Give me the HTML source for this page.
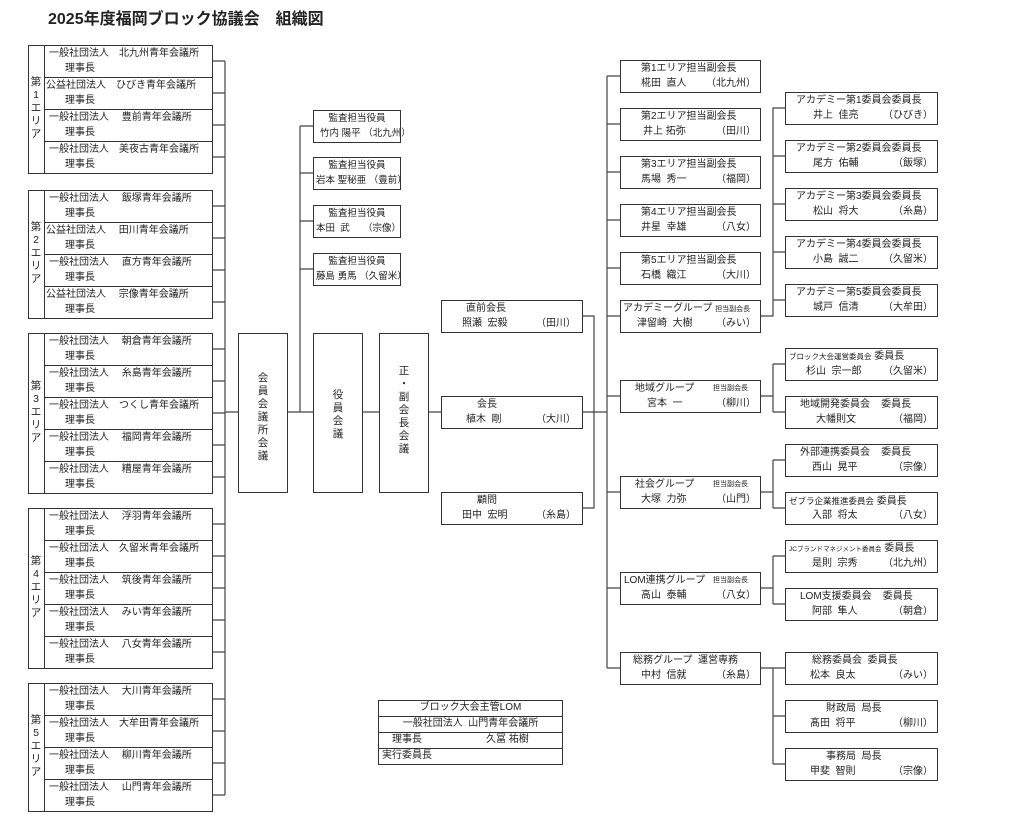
<!DOCTYPE html>
<html><head><meta charset="utf-8">
<style>
body{margin:0;background:#fff;}
#c{position:relative;width:1024px;height:821px;overflow:hidden;font-family:"Liberation Sans","Noto Sans CJK JP",sans-serif;font-size:10px;color:#222;}
.b{position:absolute;border:1px solid #333;box-sizing:border-box;background:#fff;}
.r{position:absolute;border-bottom:1px solid #333;box-sizing:border-box;}
.t{position:absolute;white-space:nowrap;line-height:12px;}
.v{position:absolute;font-size:10.5px;line-height:13px;text-align:center;width:12px;}
.a .t{font-size:9.5px;}
svg{position:absolute;left:0;top:0;}
</style></head><body><div id="c">
<svg width="1024" height="821" stroke="#444" stroke-width="1.2" fill="none">
<path d="M225 61V795M212 61H225M212 93H225M212 125H225M212 157H225
M212 206H225M212 238H225M212 270H225M212 302H225
M212 349H225M212 381H225M212 413H225M212 445H225M212 477H225
M212 524H225M212 556H225M212 588H225M212 620H225M212 652H225
M212 699H225M212 731H225M212 763H225M212 795H225
M225 412H238M287 412H313M362 412H379M428 412H441"/>
<path d="M300 126V412M300 126H313M300 173H313M300 221H313M300 269H313"/>
<path d="M582 316H594V508H582M582 412H607"/>
<path d="M607 76V668M607 76H620M607 124H620M607 172H620M607 220H620M607 268H620M607 316H620M607 396H620M607 492H620M607 588H620M607 668H620"/>
<path d="M760 316H773V108H785M773 156H785M773 204H785M773 252H785M773 300H785"/>
<path d="M760 396H773M773 364V412M773 364H785M773 412H785"/>
<path d="M760 492H773M773 460V508M773 460H785M773 508H785"/>
<path d="M760 588H773M773 556V604M773 556H785M773 604H785"/>
<path d="M760 668H785M773 668V764M773 716H785M773 764H785"/>
</svg>
<div class="t" style="left:48px;top:11px;font-size:16px;line-height:18px;font-weight:bold;">2025年度福岡ブロック協議会　組織図</div>

<div class="b" style="left:28px;top:45px;width:185px;height:129px;"></div>
<div class="v" style="left:30px;top:76px;">第<br>1<br>エ<br>リ<br>ア</div>
<div class="b" style="left:44px;top:45px;width:169px;height:33px;"><span class="t" style="left:4px;top:2px;">一般社団法人　北九州青年会議所</span><span class="t" style="left:20px;top:17px;">理事長</span></div>
<div class="b" style="left:44px;top:77px;width:169px;height:33px;"><span class="t" style="left:1px;top:2px;">公益社団法人　ひびき青年会議所</span><span class="t" style="left:20px;top:17px;">理事長</span></div>
<div class="b" style="left:44px;top:109px;width:169px;height:33px;"><span class="t" style="left:4px;top:2px;">一般社団法人　&nbsp;豊前青年会議所</span><span class="t" style="left:20px;top:17px;">理事長</span></div>
<div class="b" style="left:44px;top:141px;width:169px;height:33px;"><span class="t" style="left:4px;top:2px;">一般社団法人　美夜古青年会議所</span><span class="t" style="left:20px;top:17px;">理事長</span></div>

<div class="b" style="left:28px;top:190px;width:185px;height:129px;"></div>
<div class="v" style="left:30px;top:221px;">第<br>2<br>エ<br>リ<br>ア</div>
<div class="b" style="left:44px;top:190px;width:169px;height:33px;"><span class="t" style="left:4px;top:2px;">一般社団法人　&nbsp;飯塚青年会議所</span><span class="t" style="left:20px;top:17px;">理事長</span></div>
<div class="b" style="left:44px;top:222px;width:169px;height:33px;"><span class="t" style="left:1px;top:2px;">公益社団法人　&nbsp;田川青年会議所</span><span class="t" style="left:20px;top:17px;">理事長</span></div>
<div class="b" style="left:44px;top:254px;width:169px;height:33px;"><span class="t" style="left:4px;top:2px;">一般社団法人　&nbsp;直方青年会議所</span><span class="t" style="left:20px;top:17px;">理事長</span></div>
<div class="b" style="left:44px;top:286px;width:169px;height:33px;"><span class="t" style="left:1px;top:2px;">公益社団法人　&nbsp;宗像青年会議所</span><span class="t" style="left:20px;top:17px;">理事長</span></div>

<div class="b" style="left:28px;top:333px;width:185px;height:161px;"></div>
<div class="v" style="left:30px;top:380px;">第<br>3<br>エ<br>リ<br>ア</div>
<div class="b" style="left:44px;top:333px;width:169px;height:33px;"><span class="t" style="left:4px;top:2px;">一般社団法人　&nbsp;朝倉青年会議所</span><span class="t" style="left:20px;top:17px;">理事長</span></div>
<div class="b" style="left:44px;top:365px;width:169px;height:33px;"><span class="t" style="left:4px;top:2px;">一般社団法人　&nbsp;糸島青年会議所</span><span class="t" style="left:20px;top:17px;">理事長</span></div>
<div class="b" style="left:44px;top:397px;width:169px;height:33px;"><span class="t" style="left:4px;top:2px;">一般社団法人　つくし青年会議所</span><span class="t" style="left:20px;top:17px;">理事長</span></div>
<div class="b" style="left:44px;top:429px;width:169px;height:33px;"><span class="t" style="left:4px;top:2px;">一般社団法人　&nbsp;福岡青年会議所</span><span class="t" style="left:20px;top:17px;">理事長</span></div>
<div class="b" style="left:44px;top:461px;width:169px;height:33px;"><span class="t" style="left:4px;top:2px;">一般社団法人　&nbsp;糟屋青年会議所</span><span class="t" style="left:20px;top:17px;">理事長</span></div>

<div class="b" style="left:28px;top:508px;width:185px;height:161px;"></div>
<div class="v" style="left:30px;top:555px;">第<br>4<br>エ<br>リ<br>ア</div>
<div class="b" style="left:44px;top:508px;width:169px;height:33px;"><span class="t" style="left:4px;top:2px;">一般社団法人　&nbsp;浮羽青年会議所</span><span class="t" style="left:20px;top:17px;">理事長</span></div>
<div class="b" style="left:44px;top:540px;width:169px;height:33px;"><span class="t" style="left:4px;top:2px;">一般社団法人　久留米青年会議所</span><span class="t" style="left:20px;top:17px;">理事長</span></div>
<div class="b" style="left:44px;top:572px;width:169px;height:33px;"><span class="t" style="left:4px;top:2px;">一般社団法人　&nbsp;筑後青年会議所</span><span class="t" style="left:20px;top:17px;">理事長</span></div>
<div class="b" style="left:44px;top:604px;width:169px;height:33px;"><span class="t" style="left:4px;top:2px;">一般社団法人　&nbsp;みい青年会議所</span><span class="t" style="left:20px;top:17px;">理事長</span></div>
<div class="b" style="left:44px;top:636px;width:169px;height:33px;"><span class="t" style="left:4px;top:2px;">一般社団法人　&nbsp;八女青年会議所</span><span class="t" style="left:20px;top:17px;">理事長</span></div>

<div class="b" style="left:28px;top:683px;width:185px;height:129px;"></div>
<div class="v" style="left:30px;top:714px;">第<br>5<br>エ<br>リ<br>ア</div>
<div class="b" style="left:44px;top:683px;width:169px;height:33px;"><span class="t" style="left:4px;top:2px;">一般社団法人　&nbsp;大川青年会議所</span><span class="t" style="left:20px;top:17px;">理事長</span></div>
<div class="b" style="left:44px;top:715px;width:169px;height:33px;"><span class="t" style="left:4px;top:2px;">一般社団法人　大牟田青年会議所</span><span class="t" style="left:20px;top:17px;">理事長</span></div>
<div class="b" style="left:44px;top:747px;width:169px;height:33px;"><span class="t" style="left:4px;top:2px;">一般社団法人　&nbsp;柳川青年会議所</span><span class="t" style="left:20px;top:17px;">理事長</span></div>
<div class="b" style="left:44px;top:779px;width:169px;height:33px;"><span class="t" style="left:4px;top:2px;">一般社団法人　&nbsp;山門青年会議所</span><span class="t" style="left:20px;top:17px;">理事長</span></div>

<div class="b" style="left:238px;top:333px;width:50px;height:160px;"><div class="v" style="left:18px;top:38px;">会<br>員<br>会<br>議<br>所<br>会<br>議</div></div>
<div class="b" style="left:313px;top:333px;width:50px;height:160px;"><div class="v" style="left:18px;top:55px;">役<br>員<br>会<br>議</div></div>
<div class="b" style="left:379px;top:333px;width:50px;height:160px;"><div class="v" style="left:18px;top:31px;">正<br>・<br>副<br>会<br>長<br>会<br>議</div></div>

<div class="b a" style="left:313px;top:110px;width:88px;height:33px;"><span class="t" style="left:0;width:86px;text-align:center;top:2px;">監査担当役員</span><span class="t" style="left:6px;top:17px;">竹内&nbsp;陽平 （北九州）</span></div>
<div class="b a" style="left:313px;top:157px;width:88px;height:33px;"><span class="t" style="left:0;width:86px;text-align:center;top:2px;">監査担当役員</span><span class="t" style="left:2px;top:17px;">岩本&nbsp;聖秘亜 （豊前）</span></div>
<div class="b a" style="left:313px;top:205px;width:88px;height:33px;"><span class="t" style="left:0;width:86px;text-align:center;top:2px;">監査担当役員</span><span class="t" style="left:2px;top:17px;">本田&nbsp;&nbsp;武&nbsp;&nbsp;&nbsp;&nbsp;&nbsp;（宗像）</span></div>
<div class="b a" style="left:313px;top:253px;width:88px;height:33px;"><span class="t" style="left:0;width:86px;text-align:center;top:2px;">監査担当役員</span><span class="t" style="left:2px;top:17px;">藤島&nbsp;勇馬 （久留米）</span></div>

<div class="b" style="left:441px;top:300px;width:142px;height:33px;"><span class="t" style="left:24px;top:2px;">直前会長</span><span class="t" style="left:20px;top:17px;">照瀬&nbsp;&nbsp;宏毅</span><span class="t" style="right:6px;top:17px;">（田川）</span></div>
<div class="b" style="left:441px;top:396px;width:142px;height:33px;"><span class="t" style="left:35px;top:2px;">会長</span><span class="t" style="left:24px;top:17px;">植木&nbsp;&nbsp;剛</span><span class="t" style="right:6px;top:17px;">（大川）</span></div>
<div class="b" style="left:441px;top:492px;width:142px;height:33px;"><span class="t" style="left:35px;top:2px;">顧問</span><span class="t" style="left:20px;top:17px;">田中&nbsp;&nbsp;宏明</span><span class="t" style="right:6px;top:17px;">（糸島）</span></div>

<div class="b" style="left:620px;top:60px;width:141px;height:33px;"><span class="t" style="left:20px;top:2px;">第1エリア担当副会長</span><span class="t" style="left:20px;top:17px;">椛田&nbsp;&nbsp;直人</span><span class="t" style="right:4px;top:17px;">（北九州）</span></div>
<div class="b" style="left:620px;top:108px;width:141px;height:33px;"><span class="t" style="left:20px;top:2px;">第2エリア担当副会長</span><span class="t" style="left:22px;top:17px;">井上&nbsp;拓弥</span><span class="t" style="right:4px;top:17px;">（田川）</span></div>
<div class="b" style="left:620px;top:156px;width:141px;height:33px;"><span class="t" style="left:20px;top:2px;">第3エリア担当副会長</span><span class="t" style="left:20px;top:17px;">馬場&nbsp;&nbsp;秀一</span><span class="t" style="right:4px;top:17px;">（福岡）</span></div>
<div class="b" style="left:620px;top:204px;width:141px;height:33px;"><span class="t" style="left:20px;top:2px;">第4エリア担当副会長</span><span class="t" style="left:20px;top:17px;">井星&nbsp;&nbsp;幸雄</span><span class="t" style="right:4px;top:17px;">（八女）</span></div>
<div class="b" style="left:620px;top:252px;width:141px;height:33px;"><span class="t" style="left:20px;top:2px;">第5エリア担当副会長</span><span class="t" style="left:20px;top:17px;">石橋&nbsp;&nbsp;織江</span><span class="t" style="right:4px;top:17px;">（大川）</span></div>
<div class="b" style="left:620px;top:300px;width:141px;height:33px;"><span class="t" style="left:2px;top:2px;">アカデミーグループ <span style="font-size:7px">担当副会長</span></span><span class="t" style="left:16px;top:17px;">津留崎&nbsp;&nbsp;大樹</span><span class="t" style="right:4px;top:17px;">（みい）</span></div>
<div class="b" style="left:620px;top:380px;width:141px;height:33px;"><span class="t" style="left:14px;top:2px;">地域グループ</span><span class="t" style="left:92px;top:2px;font-size:7px;">担当副会長</span><span class="t" style="left:26px;top:17px;">宮本&nbsp;&nbsp;一</span><span class="t" style="right:4px;top:17px;">（柳川）</span></div>
<div class="b" style="left:620px;top:476px;width:141px;height:33px;"><span class="t" style="left:14px;top:2px;">社会グループ</span><span class="t" style="left:92px;top:2px;font-size:7px;">担当副会長</span><span class="t" style="left:20px;top:17px;">大塚&nbsp;&nbsp;力弥</span><span class="t" style="right:4px;top:17px;">（山門）</span></div>
<div class="b" style="left:620px;top:572px;width:141px;height:33px;"><span class="t" style="left:3px;top:2px;">LOM連携グループ</span><span class="t" style="left:92px;top:2px;font-size:7px;">担当副会長</span><span class="t" style="left:20px;top:17px;">高山&nbsp;&nbsp;泰輔</span><span class="t" style="right:4px;top:17px;">（八女）</span></div>
<div class="b" style="left:620px;top:652px;width:141px;height:33px;"><span class="t" style="left:12px;top:2px;">総務グループ&nbsp;&nbsp;運営専務</span><span class="t" style="left:20px;top:17px;">中村&nbsp;&nbsp;信就</span><span class="t" style="right:4px;top:17px;">（糸島）</span></div>

<div class="b" style="left:785px;top:92px;width:153px;height:33px;"><span class="t" style="left:10px;top:2px;">アカデミー第1委員会委員長</span><span class="t" style="left:27px;top:17px;">井上&nbsp;&nbsp;佳亮</span><span class="t" style="right:4px;top:17px;">（ひびき）</span></div>
<div class="b" style="left:785px;top:140px;width:153px;height:33px;"><span class="t" style="left:10px;top:2px;">アカデミー第2委員会委員長</span><span class="t" style="left:27px;top:17px;">尾方&nbsp;&nbsp;佑輔</span><span class="t" style="right:4px;top:17px;">（飯塚）</span></div>
<div class="b" style="left:785px;top:188px;width:153px;height:33px;"><span class="t" style="left:10px;top:2px;">アカデミー第3委員会委員長</span><span class="t" style="left:27px;top:17px;">松山&nbsp;&nbsp;将大</span><span class="t" style="right:4px;top:17px;">（糸島）</span></div>
<div class="b" style="left:785px;top:236px;width:153px;height:33px;"><span class="t" style="left:10px;top:2px;">アカデミー第4委員会委員長</span><span class="t" style="left:27px;top:17px;">小島&nbsp;&nbsp;誠二</span><span class="t" style="right:4px;top:17px;">（久留米）</span></div>
<div class="b" style="left:785px;top:284px;width:153px;height:33px;"><span class="t" style="left:10px;top:2px;">アカデミー第5委員会委員長</span><span class="t" style="left:27px;top:17px;">城戸&nbsp;&nbsp;信清</span><span class="t" style="right:4px;top:17px;">（大牟田）</span></div>

<div class="b" style="left:785px;top:348px;width:153px;height:33px;"><span class="t" style="left:3px;top:2px;"><span style="font-size:7.5px">ブロック大会運営委員会</span> 委員長</span><span class="t" style="left:20px;top:17px;">杉山&nbsp;&nbsp;宗一郎</span><span class="t" style="right:4px;top:17px;">（久留米）</span></div>
<div class="b" style="left:785px;top:396px;width:153px;height:33px;"><span class="t" style="left:14px;top:2px;">地域開発委員会&nbsp;&nbsp;&nbsp;&nbsp;委員長</span><span class="t" style="left:30px;top:17px;">大幡則文</span><span class="t" style="right:4px;top:17px;">（福岡）</span></div>
<div class="b" style="left:785px;top:444px;width:153px;height:33px;"><span class="t" style="left:14px;top:2px;">外部連携委員会&nbsp;&nbsp;&nbsp;&nbsp;委員長</span><span class="t" style="left:26px;top:17px;">西山&nbsp;&nbsp;晃平</span><span class="t" style="right:4px;top:17px;">（宗像）</span></div>
<div class="b" style="left:785px;top:492px;width:153px;height:33px;"><span class="t" style="left:3px;top:2px;"><span style="font-size:8.5px">ゼブラ企業推進委員会</span> 委員長</span><span class="t" style="left:26px;top:17px;">入部&nbsp;&nbsp;将太</span><span class="t" style="right:4px;top:17px;">（八女）</span></div>
<div class="b" style="left:785px;top:540px;width:153px;height:33px;"><span class="t" style="left:3px;top:2px;"><span style="font-size:6.5px">JCブランドマネジメント委員会</span> 委員長</span><span class="t" style="left:26px;top:17px;">是則&nbsp;&nbsp;宗秀</span><span class="t" style="right:4px;top:17px;">（北九州）</span></div>
<div class="b" style="left:785px;top:588px;width:153px;height:33px;"><span class="t" style="left:14px;top:2px;">LOM支援委員会&nbsp;&nbsp;&nbsp;&nbsp;委員長</span><span class="t" style="left:26px;top:17px;">阿部&nbsp;&nbsp;隼人</span><span class="t" style="right:4px;top:17px;">（朝倉）</span></div>

<div class="b" style="left:785px;top:652px;width:153px;height:33px;"><span class="t" style="left:26px;top:2px;">総務委員会&nbsp;&nbsp;委員長</span><span class="t" style="left:24px;top:17px;">松本&nbsp;&nbsp;良太</span><span class="t" style="right:4px;top:17px;">（みい）</span></div>
<div class="b" style="left:785px;top:700px;width:153px;height:33px;"><span class="t" style="left:40px;top:2px;">財政局&nbsp;&nbsp;局長</span><span class="t" style="left:24px;top:17px;">髙田&nbsp;&nbsp;将平</span><span class="t" style="right:4px;top:17px;">（柳川）</span></div>
<div class="b" style="left:785px;top:748px;width:153px;height:33px;"><span class="t" style="left:40px;top:2px;">事務局&nbsp;&nbsp;局長</span><span class="t" style="left:24px;top:17px;">甲斐&nbsp;&nbsp;智則</span><span class="t" style="right:4px;top:17px;">（宗像）</span></div>

<div class="b" style="left:378px;top:700px;width:185px;height:65px;"></div>
<div class="r" style="left:378px;top:700px;width:185px;height:17px;"><span class="t" style="left:0;width:185px;text-align:center;top:2px;">ブロック大会主管LOM</span></div>
<div class="r" style="left:378px;top:716px;width:185px;height:17px;"><span class="t" style="left:0;width:185px;text-align:center;top:2px;">一般社団法人&nbsp;&nbsp;山門青年会議所</span></div>
<div class="r" style="left:378px;top:732px;width:185px;height:17px;"><span class="t" style="left:14px;top:2px;">理事長</span><span class="t" style="left:108px;top:2px;">久冨&nbsp;祐樹</span></div>
<div class="t" style="left:382px;top:750px;">実行委員長</div>
</div></body></html>
